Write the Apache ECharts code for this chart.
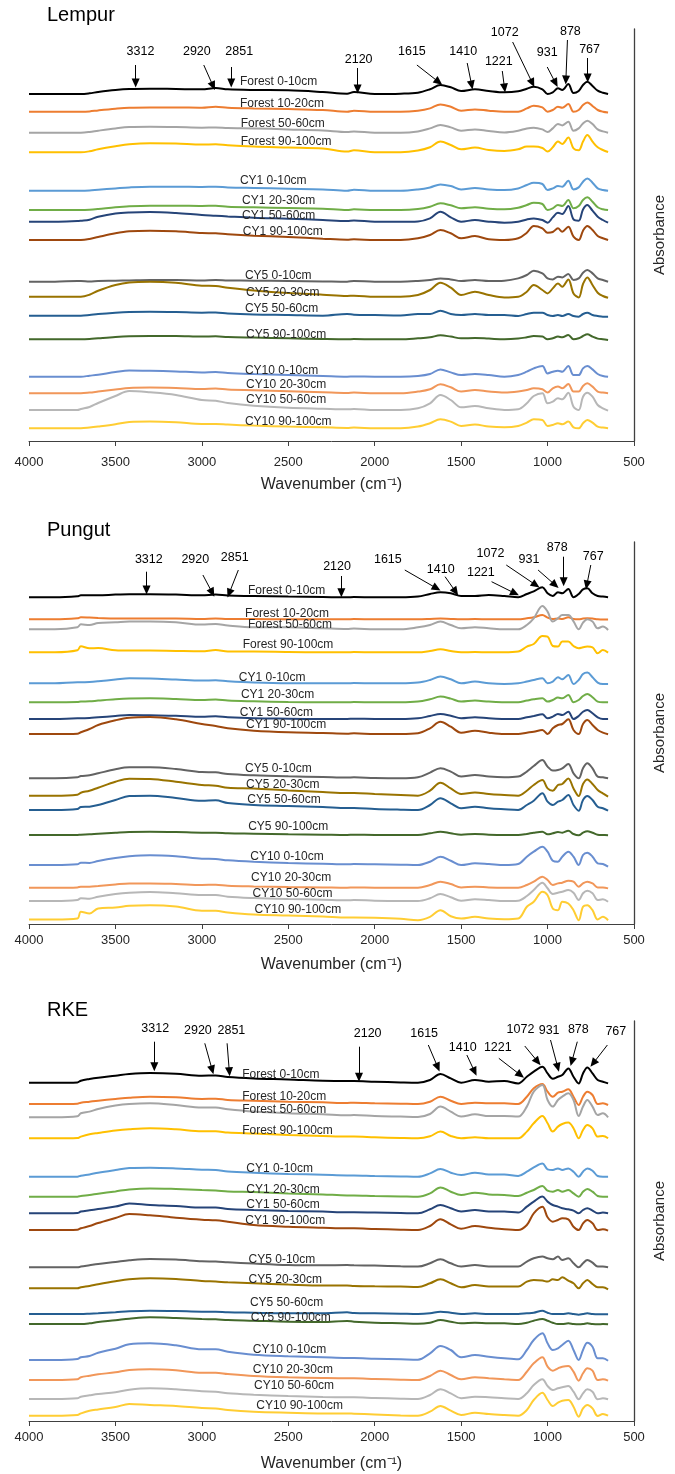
<!DOCTYPE html>
<html><head><meta charset="utf-8">
<script src="https://cdn.jsdelivr.net/npm/echarts@6/dist/echarts.min.js"></script>
<style>html,body{margin:0;padding:0;background:#fff}#c{width:675px;height:1474px}</style>
</head><body><div id="c"></div>
<script>
// ---------- DATA ----------
const wavenumbers = [4000,3850,3720,3700,3650,3600,3500,3420,3300,3150,3000,2920,2850,2700,2500,2300,2160,2120,2000,1850,1750,1680,1620,1560,1500,1420,1340,1250,1170,1120,1080,1030,1000,970,940,915,880,850,820,795,770,740,710,680,650];

const traceNames = ['Forest 0-10cm','Forest 10-20cm','Forest 50-60cm','Forest 90-100cm','CY1 0-10cm','CY1 20-30cm','CY1 50-60cm','CY1 90-100cm','CY5 0-10cm','CY5 20-30cm','CY5 50-60cm','CY5 90-100cm','CY10 0-10cm','CY10 20-30cm','CY10 50-60cm','CY10 90-100cm'];

const peakLabels = ['3312','2920','2851','2120','1615','1410','1221','1072','931','878','767'];

// baseline (stack offset, a.u.) of every trace at 4000 cm-1
const lempurBase = [347,329.3,308.3,288.7,250.3,231,219.3,201,159.3,144.3,125.3,101.7,64.3,47.7,31,12.7];
const pungutBase = [326.7,304.7,294.7,271.7,240.7,221.7,205,190,145.7,128.3,114,89,59,36.3,23,4.5];
const rkeBase = [338.3,317,303.7,282.7,244.3,224.3,207.7,191,153.7,132.7,107,97,61,41,22,5.3];

// absorbance above each trace's baseline, one row per trace, at the wavenumbers above
const lempurAbs = [
[0,0,0,0,0.7,2,4,5,5.3,5,4.7,6,4.7,4,3.7,2,0.3,2,0,0.3,1.3,4.7,9,6.7,3,4.7,3,1.7,2.7,5.3,7.3,4.7,0,1.7,5.7,4,10,1,3,9,12.3,8,3.3,1.3,0],
[0,0,0,0,0.3,1.3,3,4,4.3,4.3,4,5,4,3.3,2.7,1.7,0,1,0,0,1,3.3,7.3,5,1,2.3,1,0,0,3.3,6,4.3,0,1.7,5,4,7.7,0,1.7,6.7,9.3,5.7,1.7,0,-0.7],
[0,0,0,0,0.7,2,4.3,5.7,6,5.7,5,5.3,4.7,4.3,3.3,2.3,0.7,1.3,0,0,1.3,4.3,7.7,5.3,2,3.3,1.7,0.3,2,4.3,5,3.3,0.7,4.3,8.7,7.3,11,2,4.3,9.3,12,8.7,3.3,1.3,0],
[0,0,0,0,1,3,6,8,9,8.7,7.7,8,7,5.7,4.7,3.7,0.7,2,0,0,1.7,5,10.7,7.3,3,4.7,2.3,1.3,3,5.7,5.7,4.3,0.7,5,10.7,8.3,14.7,4,2,10.7,17.3,10.7,5,2.3,0.3],
[0,0,0,0,0.3,1,2.3,3.3,4,4,3.7,4,3.3,2.7,2,1.3,0,1,0,0,1.3,3.3,6.3,4.7,1.3,2.7,1.3,0.7,2.3,5.7,8,6.7,0.7,2.3,4.7,4,10,1.3,3.3,9,12.3,8,2.3,0.7,0],
[0,0,0,0,0.3,1,2.7,3.7,4.3,4.3,4,4.3,3.3,2.7,2,1.3,0,0.7,0,0,1,3.3,6.7,4.7,1.7,2.7,1.3,0.7,2.3,5,7.3,6,0,1.7,5,4,10,1.7,4,10,12.7,8.3,2.7,0.7,0],
[0,0,0.7,1,2,5,8.3,9.3,9.7,8.7,6.7,6,5.3,4,3,1.7,0.7,1.3,0,0,0.3,3.3,10,4.3,0,1.7,0,-1,0,2.3,3.3,1.7,-1,4.3,9,7.7,15.7,2.3,1,12.3,16.7,11,5,1.7,-1],
[0,0,0,0,1,3,6.7,8.7,9.3,8.7,7,6.7,5.7,4.3,3,1.3,0.3,0.7,0,0,1.7,5,10,6.7,1.7,4,0.7,0,1.7,7.3,14,11.7,7.3,8,11.7,8.3,13.3,3.3,0,9.3,14,10,4,1.7,0],
[0,0,0.7,0.7,0.3,0.7,1,1.3,1.7,1.7,1.3,1.7,1.3,1,0.7,0.3,0,0.7,0,0,0.7,1.7,3.3,2.3,0.7,1.7,0.7,1,3.3,6.7,11,8.3,3.3,2.3,5,4.3,7.7,1.7,3.3,9,11.7,8.3,3.3,1.7,0],
[0,0,0,0,2,6,11.7,14.3,15,14,11,10.7,9,6.3,3.7,2,0.7,1,0,0,1.7,6.7,14,9,1.7,5,1.7,-0.7,0,5,11.7,6.7,3.3,8.3,13.3,10,17.3,3.3,-0.7,12.7,19.3,11.7,4,0.7,-1],
[0,0,0,0,0.7,1.7,3,3.7,4,3.7,3,3.3,2.3,1.3,0.7,0,1.7,1,0.7,0.3,1.7,1.7,5,1.7,0.7,1.7,0.7,0.7,-0.3,1.7,3,3,0.7,-0.3,0.7,-0.3,1.7,-0.3,-1,1.7,3,0.7,-0.3,-1,-1],
[0,0,0,0,0.3,1,2.3,3,3.3,3.3,2.7,3,2.3,1.7,1,0.3,0,0.3,0,0,1,2,4,2.7,1,1.3,0.7,0,0.7,2,3.3,2.7,0,1,2.7,2,4.3,0,1,3.3,5,2.7,0.7,0,-0.7],
[0,0,0,0,1,2,4.7,6.3,6,5.3,4.3,4.7,3.7,2.7,1.7,0.7,0,0.3,0,0,0.7,2.7,7.3,4.3,1.7,2.7,1.7,0,1.7,5,8.3,10.7,3.3,5,6,5,10.7,1.7,1.7,8.3,10.7,7.3,2.7,0.7,0],
[0,0,0,0,0.7,1.7,3.7,5.3,5.7,5.3,4.3,4.7,3.7,3,2,1,0.3,0.7,0,0,1.7,4,9,6,1.7,3.3,1.7,0.7,1.7,3.3,5,4,0.7,5,6.7,5,9.3,1.7,1.7,7.3,10,6.7,1.7,0.7,0],
[0,0,0,1,3,7,14,19,17.7,15,10,9.3,7,4.3,2.3,1.3,0.7,1,0,0,1.7,6.7,15,10,2.7,4,1.7,0,0.7,6.7,14,16.7,6.7,8.3,11.7,10.7,17.3,3.3,0,13.3,17.3,13.3,5,1.7,-0.7],
[0,0,0,0,0.7,1.7,4,6.3,6.7,6,4.3,4.3,3.7,2.7,1.7,1,0.3,0.7,0,0,1.7,5,9,6.7,2.3,3.7,1.7,1,2.3,5.7,9,8.3,2.3,3.3,5,4,6.7,1,0,5,8.3,5.7,1.7,0.7,0]
];
const pungutAbs = [
[0,0,1,2,2,2,2.7,3,3,2.7,2,2.7,1.7,1.3,0.7,0.3,0,0.3,0,0,0.7,3.3,5,4,1.3,1.3,2.3,1.3,0,3.3,6,10,4,1.3,5,4,8.3,0,3.3,8,9,4,1.3,0.7,0],
[0,0,1,2,1.7,1.3,0.7,0.7,0.7,0.7,0.3,0.7,0.3,0.3,0,0,0,0.3,0,0,0,0.3,0.7,0.3,0,0.3,0,0,0,1,2,4.3,1.7,0.3,0.7,0.3,2,0.3,0,0.7,1,0.7,0,-0.3,-0.3],
[0,0,2,5,4.3,6.3,7,7.7,7.7,7,4.7,5.3,3.7,2,2,1,0.3,0.7,0,0,2,4.3,7.7,4.3,1,2,1,0,0,4.3,11,23.3,17.7,7.7,11,14.3,14.3,8,0,6.7,10,7.7,1,2.7,-0.7],
[0,0,2,6,4,4.3,2,1.7,1.7,1.3,1,2.3,0.7,0.7,0.3,0,0,0.3,0,0,0,1.3,3,1.3,0,0.3,0,0,0.7,5.7,8.3,16.3,15.7,6.3,5.7,10.7,10.7,6.3,4,5,5.7,5,-1,2.3,-0.3],
[0,0,1,1,1.3,2,3.7,5,4.7,3.7,2.7,3,2,0.7,0,0,0,0.3,0,0,0.7,3.3,6.7,4,0,1.7,0,-0.7,0,1.7,3.3,5,0,1.7,6,4,8.3,-0.7,3.3,9.3,10.7,6,0.7,-0.7,-0.7],
[0,0,0.3,0.7,1,1.7,3,3.7,4,3.3,2.3,2.7,1.7,1,0.3,0,0,0.3,0,0,0.7,3,5.7,3.7,0.7,1.7,0.7,0,0,1.7,3,4,0.7,2.3,4.7,4,7.3,0,2.3,6.3,8.3,5,0.7,0,0],
[0,0,0.7,0.7,1,1.7,3,4,3.7,3.3,2.3,2.7,1.7,0.7,0.3,0,0,0.3,0,0,0.7,3,5,3.3,0.7,1.7,0.7,0,0,1.7,3,4.7,0.7,2.3,5,4,7.3,0,3,7.3,9,5.7,1.7,0,0],
[0,0,0.3,1.7,5,9,13.7,16.3,17,14.7,10,8,5.7,3.3,1.7,1,0.3,0.7,0,0,0.7,5.7,12.3,7.3,1.3,3.3,1.3,0,0,1.3,2.3,4,0,5.7,9,10,14.7,4,0,10,14,9,4,1.3,-0.3],
[0,0,1,2.3,3,5,9,11,11,9.3,6.3,6,4.3,3,2,1.3,0.7,1,0.3,0,1,5.7,10,6.7,1.7,3.3,1.7,1,1.7,6.7,12.3,18.3,11.7,7.7,8.3,10,14.3,5,0,10,15,10,1.7,1,0],
[0,0,1,3,5,8,14,17,16.7,14,10.7,10,8,7.3,5.3,3.7,2.7,2.7,1.7,0.7,0,5,13,7.3,1.7,3.3,1.7,0.7,0,5,10.7,15.7,7.3,5,10.7,11.7,17.3,7.3,-0.3,11.7,16.3,11.7,5.7,2.3,-1],
[0,0,1,3,3.3,5,10,14,14.3,12,9.3,9.7,7,5,4,3,2,2,1,0.3,0,5,11.7,6.7,1.7,3.3,1.7,0.7,0,5,9.3,16.7,8.3,5,8.3,10,15,5,-0.7,10,14,10,3.3,1.7,-0.7],
[0,0,0,0.3,0.7,1.3,2.3,3,3.3,3,2.3,2.3,1.7,1.3,0.7,0.3,0,0.3,0,0,0,1.7,3.3,1.7,0.3,1,0.3,0,0,1,2.3,3.3,0.7,1.7,3,2.3,4.3,1,-0.3,2.3,3.7,2.3,0.3,0,-0.3],
[0,0,0.7,2.3,2,4,7,8.7,9.7,8.7,6.3,6,4.7,3.3,2,1.3,0.7,1,0.7,0.3,0,3.3,8.3,4.3,0,1.7,1,0,1,8.3,13.3,18.3,13.3,4.3,3.3,8.3,13.3,8.3,0,10,12.3,8.3,1.7,1,-1.7],
[0,0,0.3,1,1,1.7,3.3,4.3,4.3,3.7,2.7,3,2,1.3,0.7,0.3,0,0.3,0,0,0,2.7,6,3.7,0.3,1,0.3,0,0,2.7,6,11,7.7,2.7,4.3,5,7,6,1,4.3,6,4.3,0.3,0.3,-0.7],
[0,0,1,2.7,2.3,4.3,7,8.3,9,7.7,6,6,4.3,3,2,1.3,0.7,1,0.3,0,0,2.7,7,3.7,0.3,1.7,1,0,0.3,5,11,18.3,12.7,7,8.3,9.3,11,8.3,1,7.7,10.3,7.7,1,1.7,-0.7],
[0,0,1,7.7,6,11,12,13.7,14.3,13,8.7,8.7,7,5,4,3,2,2,1.7,0.7,-0.7,2.7,9.3,3.3,1,2.7,1,0.3,1,12.7,17.7,27.7,24.3,11,9.3,17.7,16,9.3,-0.7,12.7,14.3,9.3,0,2.7,-0.7]
];
const rkeAbs = [
[0,0,0.3,2,3.7,5,7,8.7,9.7,9,7,7.3,5.7,4.3,3.3,2,1.7,1.7,1,0.3,0,2.7,8.7,4.3,0,2.7,1,1.7,-0.7,6,11,16,9.3,4,6,7.7,14.3,6,-0.7,9.3,15.3,9.3,2.7,1,-0.7],
[0,0,0.3,1.3,2.3,3.3,5,6.3,7.3,6.7,5,5.3,4,3.3,2.3,1.7,1,1.3,0.7,0.3,0,2.3,7.3,3.3,0,1.3,0.7,0.7,0,7.3,15.7,20,12.3,7.3,11.3,12.3,14.7,7.3,-1,7.3,12.3,9,0,0.7,-1],
[0,0,1,4,5.7,8.3,11.7,13.3,14,12.3,9.7,9.7,8,5.7,4,3,2,2.3,1.3,0.7,0.3,3.3,10.7,5.7,0.7,3,1.3,1.3,0.7,10.7,25.7,32.3,17.3,10.7,17.3,20.7,24,17.3,1.3,10.7,17.3,10.7,2.3,4,0],
[0,0,0.3,1.7,4,5.3,7.7,9,10,9,7,7,5.7,4.7,3.3,2.3,1.7,1.7,1,0.3,0,2,6.7,2.3,0,1,0,0,0,6.7,15,22.3,15,6.7,11.7,14.3,15.7,10,0,8.3,13.3,10,1.7,2.3,0],
[0,0,0,1,2.3,4,6.7,8.7,9,8.3,7,6.7,5.3,4,2.7,2,1.3,1.3,0.7,0.3,0,3.3,7.7,4,1.7,4,2.3,2.3,0.7,5,9.3,13.3,7.3,6.7,8.3,6.7,8.3,5,0,5,8.3,6,0.7,0,0],
[0,0,0,0.7,1.7,3,5.3,7.3,8.3,7.7,6.7,6.3,5.3,4.7,3.3,2.3,1.3,1.3,0.7,0.3,0,3.3,9.3,5,1.7,4,2.3,1.7,0.7,4,6.7,10.7,6,5,6.7,5,6.7,3.3,0,5,7.7,5,0.7,0,0],
[0,0,0.3,1.7,3,4.3,6.7,9.7,8.3,7.3,5.7,5.7,4.3,3.3,2.3,1.7,1,1,0.7,0.3,0,4,8.3,5,1.7,3.3,1.7,1.7,0.7,6.7,11.7,16.7,11.7,8.3,6.7,5,4,2.7,0,3.3,5,2.7,0,0.7,0],
[0,0,0.3,1.7,4,7,12,16,14.7,12.3,10.3,9.7,8.3,5,3.3,2.3,1.7,1.7,1,0.3,0,4,10.7,5.7,1.3,4,2.3,0.7,0,5,16.7,23.3,12.7,8.3,10,11.7,10.7,3.3,0,6.7,10,6.7,0,0.7,-0.7],
[0,0,0,0.7,2,3.3,5.3,7,8.3,7.7,6,5.7,5,3.7,2.3,2,2.3,2,1.7,1,0.7,4,8,4,0.7,2.3,0.7,0.7,0.7,5.7,9,10.7,9,8,10.7,7.3,9,4,0,4,7.3,4.7,0.7,0.7,0],
[0,0,0,1,2.3,4,7,9,10,9.3,7.3,6.7,6,5,3.7,2.7,2.7,2.3,2,1.7,1.3,5,9,5,1,3.3,1.7,1.7,1.7,6.7,8.3,7.7,6.7,9,8.3,11,7.7,5,0,5,8.3,4.3,1,1,-1],
[0,0,0,0,0.3,0.7,1.7,2.7,3.3,3,2.3,2.3,1.7,1.3,0.7,0.7,1.7,1,0.7,0.3,0,0.7,2.3,1.3,0,0.7,0,0,0,0.7,1.3,3.3,1.3,0,0,0,0.7,0,-0.7,0,0.7,0,-0.3,-0.3,-0.3],
[0,0,0,0,0.7,2,3.7,5.3,6.7,6,5,4.7,4,3.3,2.3,2,3,2.3,1.3,0.7,0.3,1.3,4,2.3,0.7,1.3,0.7,0.7,0,1.3,3.3,5,3.3,1.3,0,0,0.7,0,-0.3,0,0.7,0,-0.3,0,-0.3],
[0,0,1,2.7,4,7.3,11.3,15.7,16.7,14.7,10.7,10.7,8.3,5.3,3.7,2.7,2,2,1.3,0.7,0.3,6.7,14,10,2.7,5,3.3,1.7,0.7,10,20,26.7,16.7,10,11.7,15,19.3,10,0,10,17.3,13.3,1.7,1.7,-0.7],
[0,0,0.7,2.7,4.3,5.7,7.7,10,10.7,9.7,7.3,7.3,6,4,2.7,2,1.7,1.7,1,0.3,0,4,9.3,5,0.7,2.7,1.7,0.7,0,8.3,16.7,22.7,13.3,9.3,11.7,13.3,14,8.3,-0.7,6.7,11.7,9.3,0,0.7,-0.7],
[0,0,0.7,2.3,3.7,5,6.7,9.3,10.7,9.7,7.7,7.3,5.7,4.3,3,2,1.7,1.7,1,0.3,0,4,9.7,5.7,0.7,2.3,1.7,0.7,0,5.7,14,19.7,13,9,10.7,11.7,13,7.3,-0.3,5.7,9.7,7.3,-0.3,0.7,-0.3],
[0,0,0.7,2.3,5,6.3,8.7,11.7,10.7,9.7,7.7,7.3,5.7,4,3,2.3,2.3,2,1.3,0.3,0,4,9.7,5,0.7,3,1.7,0.7,0,5.7,15.7,23,15.7,9.7,13,15,15.7,9,-1,7.3,10.7,7.3,-0.3,1.7,0]
];

// ---------- ANNOTATION PLACEMENT (data coordinates: wavenumber, a.u.) ----------
const lempurLabelAt = [[2780,359.3],[2780,337.7],[2775,317.7],[2775,299.3],[2780,260],[2768,240],[2768,225],[2763,209.3],[2751,165],[2744,148.3],[2751,132],[2744,106.7],[2751,70.3],[2744,56],[2744,41.7],[2751,19.3]];
const pungutLabelAt = [[2733,333],[2750,310.7],[2733,299],[2764,279],[2786,246.3],[2774,229],[2781,211.3],[2744,199],[2750,155],[2744,139],[2737,124],[2732,97.3],[2720,67.3],[2715,46.3],[2707,30],[2695,14.7]];
const rkeLabelAt = [[2767,346],[2767,324.3],[2767,311],[2767,290.3],[2743,252],[2743,231.7],[2743,216],[2749,200.3],[2730,161],[2730,141.7],[2722,118.3],[2717,103.7],[2705,71.7],[2705,51.7],[2698,35],[2685,15]];

const lempurPeakAt = [[3355,389],[3029,389],[2784,389],[2093,381],[1785,389],[1488,389],[1282,379],[1248,408],[1002,388],[868,409],[757,391]];
const lempurArrows = [[3383,376,3383,358],[2989,376,2935,355],[2830,374,2830,358],[2099,373,2099,352],[1756,376,1630,359],[1465,378,1439,356],[1262,370,1249,353],[1202,399,1088,358],[1002,374,954,358],[885,401,894,361],[768,383,768,363]];
const pungutPeakAt = [[3307,364],[3038,364],[2810,366.3],[2218,357.3],[1924,364],[1618,354],[1386,351.3],[1330,370.7],[1108,364.7],[944,376.7],[736,367.3]];
const pungutArrows = [[3320,352.3,3320,334],[2994,349,2940,331.3],[2789,354,2842,330.7],[2193,348,2193,331.3],[1826,354,1642,335.7],[1593,347.3,1532,332.3],[1324,342.3,1189,330.7],[1239,359,1068,339],[1055,354,956,339],[907,367.3,907,342.3],[750,359,773,339]];
const rkePeakAt = [[3270,392.7],[3023,390.3],[2829,390.3],[2041,387.7],[1714,387.7],[1491,373.7],[1288,373.7],[1157,391.7],[991,390],[822,391],[605,389.3]];
const rkeArrows = [[3275,379.3,3275,354.3],[2983,377.7,2940,351],[2854,377.7,2841,349.3],[2091,374.3,2091,343.7],[1690,376,1635,353.7],[1467,366,1422,349.3],[1282,362.7,1157,346],[1132,375,1057,359.3],[983,381,941,353.7],[828,379.3,860,359.3],[654,376,736,357.7]];

// ---------- STYLE ----------
const colors = ['#000000','#ED7D31','#A5A5A5','#FFC000','#5B9BD5','#70AD47','#264478','#9E480E','#636363','#997300','#255E91','#43682B','#698ED0','#F1975A','#B7B7B7','#FFCD33'];
const FONT = 'Liberation Sans';
const TXT = '#262626';

const panels = [
  {title:'Lempur', titleTop:5, base:lempurBase, abs:lempurAbs, labelAt:lempurLabelAt, peakAt:lempurPeakAt, arrows:lempurArrows,
   grid:{left:29,right:33,top:29,height:412}, yMax:412, labelMargin:15, nameGap:36},
  {title:'Pungut', titleTop:520, base:pungutBase, abs:pungutAbs, labelAt:pungutLabelAt, peakAt:pungutPeakAt, arrows:pungutArrows,
   grid:{left:29,right:30,top:542,height:382}, yMax:382, labelMargin:10, nameGap:33},
  {title:'RKE', titleTop:1000, base:rkeBase, abs:rkeAbs, labelAt:rkeLabelAt, peakAt:rkePeakAt, arrows:rkeArrows,
   grid:{left:29,right:37,top:1021,height:400}, yMax:400, labelMargin:10, nameGap:35}
];

const option = {
  animation:false,
  backgroundColor:'#ffffff',
  textStyle:{fontFamily:FONT},
  title: panels.map(p => ({text:p.title, left:47, top:p.titleTop, padding:0,
      textStyle:{fontSize:20, fontWeight:'normal', color:'#000', fontFamily:FONT}})),
  grid: panels.map(p => Object.assign({containLabel:false}, p.grid)),
  xAxis: panels.map((p,i) => ({
    gridIndex:i, type:'value', min:500, max:4000, interval:500, inverse:true,
    axisLine:{show:true, onZero:false, lineStyle:{color:'#404040', width:1}},
    axisTick:{show:true, length:5, lineStyle:{color:'#404040'}},
    axisLabel:{fontSize:13, color:TXT, margin:p.labelMargin, fontFamily:FONT, formatter:v => String(v)},
    splitLine:{show:false},
    name:'Wavenumber (cm⁻¹)', nameLocation:'middle', nameGap:p.nameGap,
    nameTextStyle:{fontSize:16, color:TXT, fontFamily:FONT}
  })),
  yAxis: panels.map((p,i) => ({
    gridIndex:i, type:'value', min:0, max:p.yMax, position:'right',
    axisLine:{show:true, lineStyle:{color:'#404040', width:1.3}},
    axisTick:{show:false}, axisLabel:{show:false}, splitLine:{show:false},
    name:'Absorbance', nameLocation:'middle', nameRotate:90, nameGap:18,
    nameTextStyle:{fontSize:15, color:TXT, fontFamily:FONT}
  })),
  series: []
};

panels.forEach((p, pi) => {
  traceNames.forEach((nm, ti) => {
    const data = wavenumbers.map((w, j) => [w, +(p.base[ti] + p.abs[ti][j]).toFixed(2)]);
    const mpData = [{coord:p.labelAt[ti], value:nm,
      label:{show:true, position:'inside', align:'left', verticalAlign:'middle', fontSize:12, color:TXT, fontFamily:FONT, formatter:nm}}];
    const s = {
      type:'line', name:nm, xAxisIndex:pi, yAxisIndex:pi, data,
      showSymbol:false, symbol:'none', smooth:0.35, silent:true, z:2 + (ti===0?1:0),
      lineStyle:{width:2, color:colors[ti]}, itemStyle:{color:colors[ti]},
      markPoint:{symbol:'circle', symbolSize:0, silent:true, animation:false, data:mpData}
    };
    if (ti === 0) {
      peakLabels.forEach((t, k) => {
        mpData.push({coord:p.peakAt[k], value:t,
          label:{show:true, position:'inside', align:'center', verticalAlign:'middle', fontSize:12.5, color:'#000', fontFamily:FONT, formatter:t}});
      });
      s.markLine = {
        silent:true, animation:false, symbol:['none','triangle'], symbolSize:[8,9], symbolOffset:[0,0],
        precision:2,
        label:{show:false}, lineStyle:{color:'#000', width:1, type:'solid'},
        itemStyle:{color:'#000'},
        emphasis:{disabled:true},
        data: p.arrows.map(a => [
          {coord:[a[0],a[1]], symbol:'none'},
          {coord:[a[2],a[3]], symbol:'triangle', symbolSize:[8,9], symbolRotate:null, itemStyle:{color:'#000'}}
        ])
      };
    }
    option.series.push(s);
  });
});

const chart = echarts.init(document.getElementById('c'), null, {renderer:'canvas'});
chart.setOption(option);
</script>
</body></html>
